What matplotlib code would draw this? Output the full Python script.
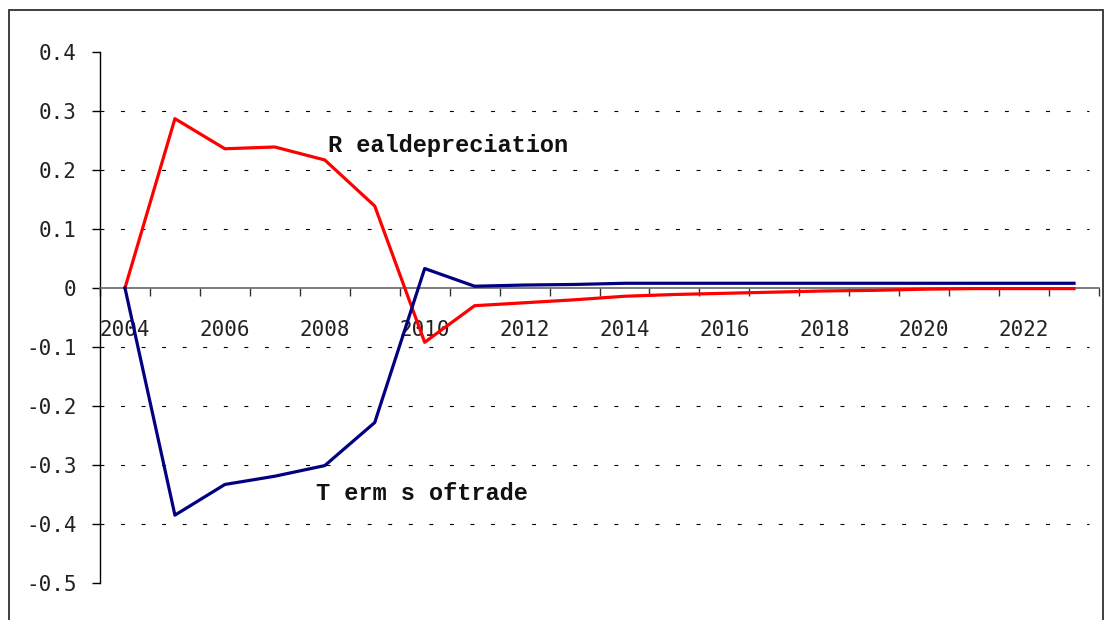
import numpy as np
import matplotlib
matplotlib.use('Agg')
import matplotlib.pyplot as plt
from matplotlib.patches import Rectangle

# Data
years = list(range(2004, 2024))
real_depreciation = [0.0, 0.287, 0.236, 0.239, 0.217, 0.139, -0.092, -0.030, -0.025,
                     -0.020, -0.014, -0.011, -0.009, -0.007, -0.005, -0.004, -0.002,
                     -0.001, -0.001, -0.001]
terms_of_trade = [0.0, -0.385, -0.333, -0.319, -0.301, -0.228, 0.033, 0.003, 0.005,
                  0.006, 0.008, 0.008, 0.008, 0.008, 0.008, 0.008, 0.008, 0.008,
                  0.008, 0.008]
year_labels = [str(y) for y in range(2004, 2023, 2)]
y_ticks = [0.4, 0.3, 0.2, 0.1, 0.0, -0.1, -0.2, -0.3, -0.4, -0.5]
y_labels = ['0.4', '0.3', '0.2', '0.1', '0', '-0.1', '-0.2', '-0.3', '-0.4', '-0.5']
grid_levels = [0.3, 0.2, 0.1, -0.1, -0.2, -0.3, -0.4]

W, H = 1106, 620
fig = plt.figure(figsize=(W / 100, H / 100), dpi=100)

# outer chart frame (bottom edge is cut off in the reference)
fig.patches.append(Rectangle((9 / W, -0.05), (1103 - 9) / W, 1.05 - 10 / H,
                             transform=fig.transFigure, fill=False,
                             edgecolor='#303030', linewidth=1.3))

ax = fig.add_axes([100 / W, 1 - 583 / H, 999 / W, (583 - 52) / H])
ax.set_xlim(2003.5, 2023.5)
ax.set_ylim(-0.5, 0.4)

for g in grid_levels:
    ax.axhline(g, xmax=0.99, color='black', linewidth=0.8,
               linestyle=(0, (3.5, 15)), zorder=1)

ax.plot(years, real_depreciation, color='#ff0000', linewidth=2.3, zorder=3)
ax.plot(years, terms_of_trade, color='#000080', linewidth=2.3, zorder=3)

# spines
ax.spines['top'].set_visible(False)
ax.spines['right'].set_visible(False)
ax.spines['left'].set_color('black')
ax.spines['left'].set_linewidth(1.0)
ax.spines['bottom'].set_position(('data', 0))
ax.spines['bottom'].set_color('#666666')
ax.spines['bottom'].set_linewidth(1.2)

# y axis
ax.set_yticks(y_ticks)
ax.set_yticklabels(y_labels, family='DejaVu Sans Mono', fontsize=15, color='#222222')
ax.tick_params(axis='y', direction='out', length=6, width=1.0, pad=11)

# x axis: tick marks at category boundaries, labels at category centres
boundaries = np.arange(2003.5, 2024.0, 1.0)
ax.set_xticks(boundaries)
ax.set_xticklabels([''] * len(boundaries))
ax.tick_params(axis='x', which='major', direction='out', length=6, width=1.0,
               color='#333333')
ax.set_xticks([int(y) for y in year_labels], minor=True)
ax.set_xticklabels(year_labels, minor=True, family='DejaVu Sans Mono', fontsize=15,
                   color='#222222')
ax.tick_params(axis='x', which='minor', length=0, pad=23)

# annotations
ax.text(2008.06, 0.241, 'R ealdepreciation', family='Liberation Mono',
        fontweight='bold', fontsize=17, ha='left', va='center', color='#111111')
ax.text(2007.82, -0.349, 'T erm s oftrade', family='Liberation Mono',
        fontweight='bold', fontsize=17, ha='left', va='center', color='#111111')

fig.savefig('out.png', dpi=100)
